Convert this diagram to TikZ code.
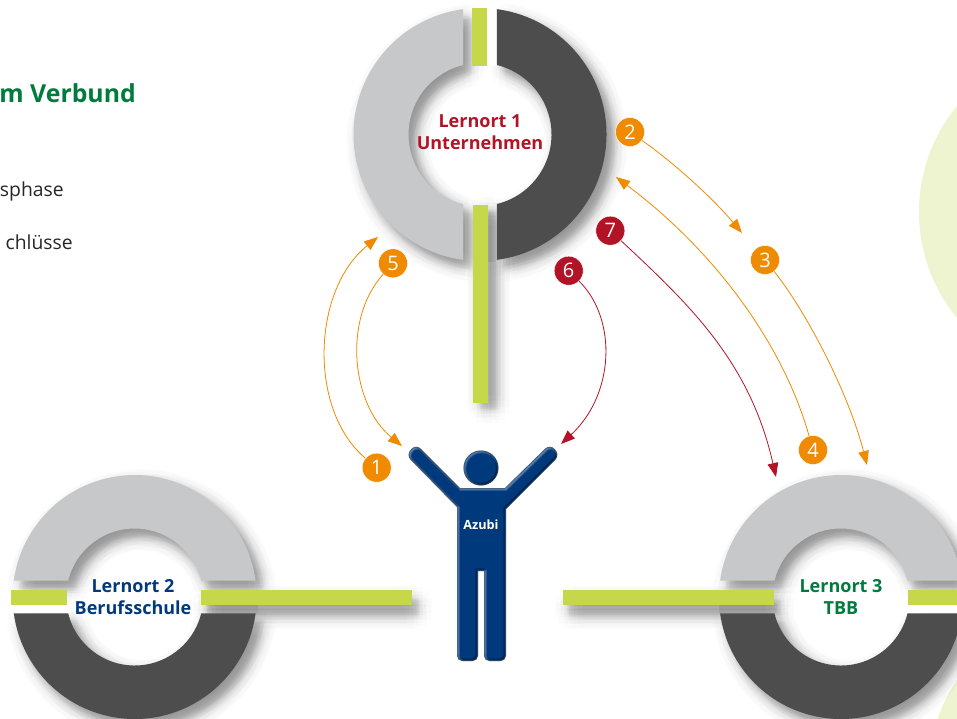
\documentclass[tikz,border=0pt]{standalone}
\usepackage{fontspec}
\setmainfont{Open Sans}
\usepackage{xcolor}
\usetikzlibrary{arrows.meta,positioning,calc}
\definecolor{lernred}{RGB}{176,20,38}
\definecolor{lernblue}{RGB}{0,58,125}
\definecolor{lerngreen}{RGB}{0,122,61}
\definecolor{numorange}{RGB}{240,138,0}
\definecolor{barlime}{RGB}{198,216,74}
\definecolor{ringlight}{RGB}{199,200,202}
\definecolor{ringdark}{RGB}{77,77,77}
\definecolor{palelime}{RGB}{239,244,208}
% ring piece: centre, R, outer angles, r, inner angles
\newcommand{\ringpart}[7]{($(#1)+(#3:#2)$) arc[start angle=#3,end angle=#4,radius=#2] -- ($(#1)+(#6:#5)$) arc[start angle=#6,end angle=#7,radius=#5] -- cycle}
% soft shadow of a path: many faint copies
\newcommand{\softshadow}[2]{%
    \begin{scope}[shift={(#1)}]
    \foreach \r in {2,5,9,14} \foreach \a in {0,30,...,330} {
        \fill[black,opacity=.0125,shift={({\a+\r*7}:\r)}] #2;
    }
    \end{scope}}
\newcommand{\azubipath}{(460,-488) [rounded corners=5pt] -- (416,-444) -- (406,-455) [sharp corners] -- (457,-507) [rounded corners=4pt] -- (457,-661) -- (478,-661) [sharp corners] -- (478,-571) -- (484,-571) [rounded corners=4pt] -- (484,-661) -- (506,-661) [sharp corners] -- (506,-509) [rounded corners=5pt] -- (560,-455) -- (550,-444) [sharp corners] -- (505,-488) -- cycle}

\begin{document}
\begin{tikzpicture}[
    x=.75pt, y=.75pt,
    num/.style={circle, fill=numorange, draw=white, line width=.3pt, minimum size=21.75pt, inner sep=0pt, text=white, font=\fontsize{15}{15}\selectfont},
    numred/.style={num, fill=lernred},
    lernort/.style={align=center, font=\bfseries\fontsize{13.5}{16.5}\selectfont},
    lime/.style={fill=barlime},
    flow/.style={-{Triangle[length=10.5pt,width=8pt]}, line width=.6pt, numorange},
    flowred/.style={flow, lernred},
    textline/.style={anchor=base east, inner sep=0pt, font=\fontsize{14.5}{14.5}\selectfont, text=black!85}
]
    \useasboundingbox (0,0) rectangle (957,-718);
    \clip (0,0) rectangle (957,-718);

    % pale circles
    \fill[palelime] (1086,-212) circle (167);
    \fill[palelime] (1095.6,-773) circle (167);

    % shadows of the rings
    \softshadow{7,-8}{\ringpart{480,-134.5}{126.5}{97.7}{262.3}{71.5}{256.25}{103.75} \ringpart{480,-134.5}{126.5}{82.3}{-82.3}{71.5}{-76.25}{76.25}}
    \softshadow{7,-8}{\ringpart{134.7,-597}{122}{7.68}{172.32}{68.5}{166.23}{13.77} \ringpart{134.7,-597}{122}{-7.68}{-172.32}{68.5}{-166.23}{-13.77}}
    \softshadow{7,-8}{\ringpart{841,-597}{122}{7.68}{172.32}{68.5}{166.23}{13.77} \ringpart{841,-597}{122}{-7.68}{-172.32}{68.5}{-166.23}{-13.77}}

    % light strips next to the bars
    \fill[white] (485,-2) rectangle (497,-66);
    \fill[white] (486,-204) rectangle (497,-262);
    \fill[white] (12,-603) rectangle (70,-613);
    \fill[white] (198,-603) rectangle (258,-613);
    \fill[white] (719,-603) rectangle (777,-613);
    \fill[white] (905,-603) rectangle (957,-613);

    % shadows of the bars
    \softshadow{8,-6}{(473,-205) rectangle (488,-403)}
    \softshadow{6,-10}{(201,-590) rectangle (412,-605)}
    \softshadow{6,-10}{(563,-590) rectangle (774,-605)}

    % rings
    \fill[ringlight] \ringpart{480,-134.5}{126.5}{97.7}{262.3}{71.5}{256.25}{103.75};
    \fill[ringdark] \ringpart{480,-134.5}{126.5}{82.3}{-82.3}{71.5}{-76.25}{76.25};
    \fill[ringlight] \ringpart{134.7,-597}{122}{7.68}{172.32}{68.5}{166.23}{13.77};
    \fill[ringdark] \ringpart{134.7,-597}{122}{-7.68}{-172.32}{68.5}{-166.23}{-13.77};
    \fill[ringlight] \ringpart{841,-597}{122}{7.68}{172.32}{68.5}{166.23}{13.77};
    \fill[ringdark] \ringpart{841,-597}{122}{-7.68}{-172.32}{68.5}{-166.23}{-13.77};

    % bars
    \fill[lime] (472,-8) rectangle (487,-66);
    \fill[lime] (473,-205) rectangle (488,-403);
    \fill[lime] (11,-590) rectangle (67,-605);
    \fill[lime] (201,-590) rectangle (412,-605);
    \fill[lime] (563,-590) rectangle (774,-605);
    \fill[lime] (908,-590) rectangle (957,-605);

    % azubi figure
    \fill[lernblue] \azubipath;
    \begin{scope}
        \clip \azubipath;
        \foreach \w in {1,2,3} {
            \draw[white,opacity=.14,line width=\w*1pt,shift={(.8,-.8)}] \azubipath;
            \draw[black,opacity=.16,line width=\w*1pt,shift={(-.8,.8)}] \azubipath;
        }
    \end{scope}
    \fill[lernblue] (481,-468) circle (17.5);
    \begin{scope}
        \clip (481,-468) circle (17.5);
        \foreach \w in {1,2,3} {
            \draw[white,opacity=.12,line width=\w*1pt] (481.8,-468.8) circle (17.5);
            \draw[black,opacity=.16,line width=\w*1pt] (480.2,-467.2) circle (17.5);
        }
    \end{scope}
    \node[text=white, font=\bfseries\fontsize{9.5}{9.5}\selectfont] (azubi) at (481,-525) {Azubi};

    % labels
    \node[lernort, text=lernred] (ort1) at (480,-132) {Lernort 1\\Unternehmen};
    \node[lernort, text=lernblue] (ort2) at (133,-597) {Lernort 2\\Berufsschule};
    \node[lernort, text=lerngreen] (ort3) at (841,-597) {Lernort 3\\TBB};

    % text on the left
    \node[anchor=base east, inner sep=0pt, text=lerngreen, font=\bfseries\fontsize{18.6}{18.6}\selectfont] (verbund) at (136,-102) {m Verbund};
    \node[textline] (phase) at (64,-196) {sphase};
    \node[textline] (schluss) at (73,-249) {chlüsse};

    % numbers
    \node[num] (n1) at (376.7,-467.7) {1};
    \node[num] (n2) at (630,-132) {2};
    \node[num] (n3) at (765,-260) {3};
    \node[num] (n4) at (813,-450) {4};
    \node[num] (n5) at (393,-263.3) {5};
    \node[numred] (n6) at (568.7,-270.7) {6};
    \node[numred] (n7) at (610.3,-230.7) {7};

    % arrow ends
    \coordinate (t1) at (378,-237);
    \coordinate (t2) at (742,-233);
    \coordinate (t3) at (867,-465);
    \coordinate (t4) at (616,-177);
    \coordinate (t5) at (402,-446);
    \coordinate (t6) at (561,-444);
    \coordinate (t7) at (776,-477);

    \draw[flow] (n1) .. controls (308,-410) and (312,-290) .. (t1);
    \draw[flow] (n2) .. controls (670,-160) and (710,-195) .. (t2);
    \draw[flow] (n3) .. controls (805,-310) and (848,-391) .. (t3);
    \draw[flow] (n4) .. controls (785,-350) and (720,-255) .. (t4);
    \draw[flow] (n5) .. controls (342,-320) and (352,-405) .. (t5);
    \draw[flowred] (n6) .. controls (618,-320) and (614,-395) .. (t6);
    \draw[flowred] (n7) .. controls (690,-305) and (750,-362) .. (t7);
\end{tikzpicture}
\end{document}
